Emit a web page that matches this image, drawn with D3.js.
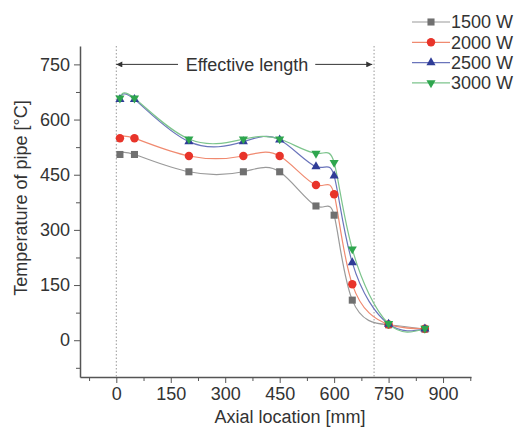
<!DOCTYPE html>
<html>
<head>
<meta charset="utf-8">
<script src="https://cdn.jsdelivr.net/npm/d3@7"></script>
<style>
    body { margin: 0; background: #fff; }
    svg text { font-family: "Liberation Sans", Arial, Helvetica, sans-serif; fill: #333; }
    .axis path, .axis line { stroke: #555; }
</style>
</head>
<body>
<svg id="chart" width="515" height="428"></svg>
<script>
var width = 515, height = 428;

// data
var axialLocation = [10, 50, 200, 350, 450, 550, 600, 650, 750, 850];
var power1500 = [505, 505, 458, 458, 458, 365, 340, 109, 42, 30];
var power2000 = [549, 549, 501, 501, 501, 422, 397, 152, 43, 31];
var power2500 = [655, 655, 540, 540, 545, 472, 447, 211, 44, 31];
var power3000 = [658, 658, 547, 547, 547, 508, 483, 248, 45, 32];
var seriesNames = ['1500 W', '2000 W', '2500 W', '3000 W'];
var xTicks = [0, 150, 300, 450, 600, 750, 900];
var yTicks = [0, 150, 300, 450, 600, 750];
var effectiveLength = [0, 710];

var markerColors = ['#707070', '#e8342a', '#2f3c97', '#2ea64e'];
var lineColors = ['#9a9a9a', '#f08a70', '#6a74bb', '#7cc48c'];
var shapes = [d3.symbolSquare, d3.symbolCircle, d3.symbolTriangle, d3.symbolTriangle];
var symbolSizes = [50, 56, 36, 36];

var series = [power1500, power2000, power2500, power3000].map(function (vals, i) {
    return {
        name: seriesNames[i],
        idx: i,
        points: vals.map(function (v, j) { return {x: axialLocation[j], y: v}; })
    };
});

var svg = d3.select('#chart');

var x = d3.scaleLinear().domain([-100, 977]).range([80, 471]);
var y = d3.scaleLinear().domain([-100, 800]).range([377, 46]);

function minorTicks(lo, hi, step) {
    var out = [];
    for (var v = lo; v <= hi; v += step) out.push(v);
    return out;
}

// minor ticks first, so major ticks sit on top
svg.append('g')
    .attr('class', 'axis')
    .attr('transform', 'translate(0,' + y(-100) + ')')
    .call(d3.axisBottom(x).tickValues(minorTicks(-75, 975, 150)).tickSize(4).tickFormat(''))
    .select('.domain').remove();

svg.append('g')
    .attr('class', 'axis')
    .attr('transform', 'translate(' + x(-100) + ',0)')
    .call(d3.axisLeft(y).tickValues(minorTicks(-75, 675, 150)).tickSize(4).tickFormat(''))
    .select('.domain').remove();

svg.append('g')
    .attr('class', 'axis')
    .attr('transform', 'translate(0,' + y(-100) + ')')
    .call(d3.axisBottom(x).tickValues(xTicks).tickSize(6).tickSizeOuter(0).tickPadding(4));

svg.append('g')
    .attr('class', 'axis')
    .attr('transform', 'translate(' + x(-100) + ',0)')
    .call(d3.axisLeft(y).tickValues(yTicks).tickSize(6).tickSizeOuter(0).tickPadding(4));

svg.selectAll('.axis path.domain').style('stroke-width', 1.5);
svg.selectAll('.axis text').style('font-size', '18px').style('fill', '#333');

svg.append('text')
    .attr('x', 290)
    .attr('y', 423)
    .attr('text-anchor', 'middle')
    .style('font-size', '18px')
    .text('Axial location [mm]');

svg.append('text')
    .attr('transform', 'translate(27,198) rotate(-90)')
    .attr('text-anchor', 'middle')
    .style('font-size', '18px')
    .text('Temperature of pipe [°C]');

// effective length guides
svg.selectAll('line.guide')
    .data(effectiveLength)
    .enter()
    .append('line')
    .classed('guide', true)
    .attr('x1', function (d) { return x(d); })
    .attr('x2', function (d) { return x(d); })
    .attr('y1', y(800))
    .attr('y2', y(-100))
    .style('stroke', '#999')
    .style('stroke-width', 1)
    .style('stroke-dasharray', '1.5,2');

var defs = svg.append('defs');
defs.append('marker')
    .attr('id', 'arrowhead')
    .attr('viewBox', '0 0 10 10')
    .attr('refX', 10)
    .attr('refY', 5)
    .attr('markerWidth', 9)
    .attr('markerHeight', 6)
    .attr('markerUnits', 'userSpaceOnUse')
    .attr('orient', 'auto')
    .append('path')
    .attr('d', 'M0,0 L10,5 L0,10 z')
    .style('fill', '#333');

var arrowY = y(750);
svg.append('line')
    .attr('x1', x(170)).attr('x2', x(effectiveLength[0]))
    .attr('y1', arrowY).attr('y2', arrowY)
    .style('stroke', '#333').style('stroke-width', 1)
    .attr('marker-end', 'url(#arrowhead)');
svg.append('line')
    .attr('x1', x(548)).attr('x2', x(705))
    .attr('y1', arrowY).attr('y2', arrowY)
    .style('stroke', '#333').style('stroke-width', 1)
    .attr('marker-end', 'url(#arrowhead)');
svg.append('text')
    .attr('x', x(360))
    .attr('y', arrowY)
    .attr('dy', '0.35em')
    .attr('text-anchor', 'middle')
    .style('font-size', '18px')
    .text('Effective length');

// spline lines
var line = d3.line()
    .x(function (d) { return x(d.x); })
    .y(function (d) { return y(d.y); })
    .curve(d3.curveNatural);

svg.append('g')
    .selectAll('path')
    .data(series)
    .enter()
    .append('path')
    .attr('d', function (d) { return line(d.points); })
    .style('fill', 'none')
    .style('stroke', function (d) { return lineColors[d.idx]; })
    .style('stroke-width', 1.2);

function symbolTransform(px, py, i) {
    var t = 'translate(' + px + ',' + py + ')';
    if (i === 3) t += ' rotate(180)';
    return t;
}

var markers = svg.append('g')
    .selectAll('g')
    .data(series)
    .enter()
    .append('g');

markers.selectAll('path')
    .data(function (d) { return d.points.map(function (p) { return {p: p, idx: d.idx}; }); })
    .enter()
    .append('path')
    .attr('d', function (d) { return d3.symbol().type(shapes[d.idx]).size(symbolSizes[d.idx])(); })
    .attr('transform', function (d) { return symbolTransform(x(d.p.x), y(d.p.y), d.idx); })
    .style('fill', function (d) { return markerColors[d.idx]; });

// legend
var legend = svg.append('g')
    .selectAll('g')
    .data(series)
    .enter()
    .append('g')
    .attr('transform', function (d, i) { return 'translate(412,' + (22 + i * 20.3) + ')'; });

legend.append('line')
    .attr('x1', 0).attr('x2', 38)
    .style('stroke', function (d) { return lineColors[d.idx]; })
    .style('stroke-width', 1.2);

legend.append('path')
    .attr('d', function (d) { return d3.symbol().type(shapes[d.idx]).size(symbolSizes[d.idx])(); })
    .attr('transform', function (d) { return symbolTransform(19, 0, d.idx); })
    .style('fill', function (d) { return markerColors[d.idx]; });

legend.append('text')
    .attr('x', 39)
    .attr('dy', '0.35em')
    .style('font-size', '18px')
    .text(function (d) { return d.name; });
</script>
</body>
</html>
